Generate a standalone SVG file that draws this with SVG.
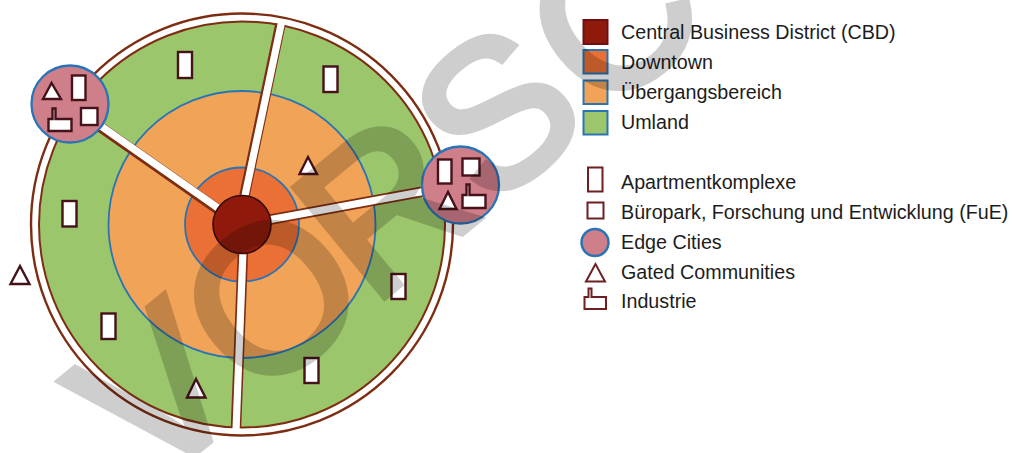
<svg xmlns="http://www.w3.org/2000/svg" width="1012" height="453" viewBox="0 0 1012 453">
<style>
.ic{fill:#fff;stroke:#45121a;stroke-width:2.400;stroke-linejoin:miter}
.lg{fill:#fff;stroke:#6d1f22;stroke-width:2}
.city{fill:#cf7f8a;stroke:#2a74b5;stroke-width:2.300}
.ring{stroke:#2a74b5;stroke-width:1.800}
.sb{stroke:#7d2e12;stroke-width:10.500;fill:none}
.sw{stroke:#fff;stroke-width:7.200;fill:none}
.t{font-family:"Liberation Sans",Arial,sans-serif;font-size:19.700px;fill:#1c1c1c}
.wm{font-family:"Liberation Sans",Arial,sans-serif;font-size:206px;fill:#000;stroke:#000;stroke-width:7;opacity:.19}
</style>
<rect width="1012" height="453" fill="#fff"/>
<g id="zones">
<circle cx="242" cy="224.500" r="211" fill="#fff" stroke="#7d2e12" stroke-width="2.400"/>
<circle id="umland" cx="242" cy="224.500" r="203" fill="#9bc66b" stroke="#7d2e12" stroke-width="2"/>
<circle id="uebergang" cx="242" cy="224.500" r="133.500" fill="#f1a457" class="ring"/>
<circle id="downtown" cx="242" cy="224.500" r="57" fill="#ea7035" class="ring"/>
</g>
<g id="connectors">
<path class="sb" d="M244 198L280.500 24"/><path class="sw" d="M244.500 198L282 20"/>
<path class="sb" d="M218 209.500L98 125.500"/><path class="sw" d="M218 208L98 124"/>
<path class="sb" d="M268 220L426 191"/><path class="sw" d="M268 220L426 191"/>
<path class="sb" d="M243 250L236 427"/><path class="sw" d="M243 250L236 431"/>
</g>
<g id="cbd"><circle cx="242" cy="224.500" r="29" fill="#8f1a0c" stroke="#3a0a0a" stroke-width="1.600"/></g>
<g id="apt1"><rect class="ic" x="178" y="52" width="14" height="26"/></g>
<g id="apt2"><rect class="ic" x="323.500" y="66.500" width="14" height="25.500"/></g>
<g id="apt3"><rect class="ic" x="62.500" y="201" width="14" height="25.500"/></g>
<g id="apt4"><rect class="ic" x="101.500" y="313.500" width="14" height="25.500"/></g>
<g id="apt5"><rect class="ic" x="391.500" y="274" width="14" height="25"/></g>
<g id="apt6"><rect class="ic" x="304.500" y="358" width="14" height="25"/></g>
<g id="gated1"><polygon class="ic" points="308,157 299.500,174 317,174"/></g>
<g id="gated2"><polygon class="ic" points="20,266 10.500,284 29.500,284"/></g>
<g id="gated3"><polygon class="ic" points="196,379 187,397.500 205.500,397.500"/></g>
<g id="edge-city-west">
<circle class="city" cx="70" cy="104" r="38.500"/>
<polygon class="ic" points="51.500,83 43,99 61,99"/>
<rect class="ic" x="72" y="75.500" width="13.500" height="24.500"/>
<rect class="ic" x="81" y="108" width="16.500" height="17"/>
<path class="ic" d="M48.500 131V119H52.500V108.500H55.500V119H71.500V131Z"/>
</g>
<g id="edge-city-east">
<circle class="city" cx="460.500" cy="185" r="38.500"/>
<rect class="ic" x="438" y="159.500" width="13.500" height="24"/>
<rect class="ic" x="462.500" y="158.500" width="17" height="17"/>
<polygon class="ic" points="448,192 439.500,209 456.500,209"/>
<path class="ic" d="M462.500 208V195H466.500V184.500H469.500V195H485.500V208Z"/>
</g>
<g id="legend-cbd"><rect x="583.500" y="20" width="24" height="24" fill="#8f1a0c" stroke="#6e1010" stroke-width="2"/><text class="t" x="621" y="39">Central Business District (CBD)</text></g>
<g id="legend-downtown"><rect x="583.500" y="50" width="24" height="23.500" fill="#ea7035" stroke="#2a74b5" stroke-width="2"/><text class="t" x="621" y="68.500">Downtown</text></g>
<g id="legend-uebergang"><rect x="583.500" y="80.500" width="24" height="23.500" fill="#f1a457" stroke="#2a74b5" stroke-width="2"/><text class="t" x="621" y="98.500">Übergangsbereich</text></g>
<g id="legend-umland"><rect x="583.500" y="111" width="24" height="23.500" fill="#9bc66b" stroke="#2a74b5" stroke-width="2"/><text class="t" x="621" y="128.500">Umland</text></g>
<g id="legend-apt"><rect class="lg" x="588" y="167.500" width="14.500" height="24"/><text class="t" x="621" y="188.500">Apartmentkomplexe</text></g>
<g id="legend-buero"><rect class="lg" x="587.500" y="202.500" width="16" height="16"/><text class="t" x="621" y="218.500">Büropark, Forschung und Entwicklung (FuE)</text></g>
<g id="legend-edge"><circle cx="595" cy="242.500" r="13.500" fill="#cf7f8a" stroke="#2a74b5" stroke-width="2.500"/><text class="t" x="621" y="248.500">Edge Cities</text></g>
<g id="legend-gated"><polygon class="lg" points="595.500,264 586,281.500 605,281.500"/><text class="t" x="621" y="278.500">Gated Communities</text></g>
<g id="legend-industrie"><path class="lg" d="M584.500 309V297H588.500V288.500H591.500V297H606V309Z"/><text class="t" x="621" y="307.500">Industrie</text></g>
<text class="wm" transform="translate(149 491) rotate(-39.500)" dx="0 0 -9 3 7">VORSC</text>
</svg>
